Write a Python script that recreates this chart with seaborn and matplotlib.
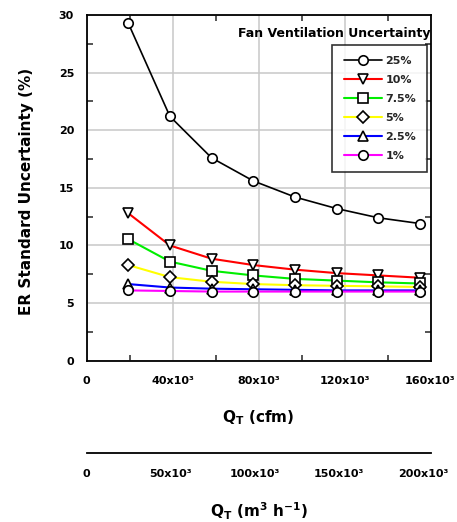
import numpy as np
import pandas as pd
import matplotlib
matplotlib.use("Agg")
import matplotlib.pyplot as plt
import seaborn as sns
from matplotlib.ticker import MultipleLocator, FixedLocator, FixedFormatter

# ---------------- data ----------------
qt_cfm = [19400, 38800, 58200, 77600, 97000, 116400, 135800, 155200]
u_25 = [29.3, 21.2, 17.6, 15.6, 14.2, 13.2, 12.4, 11.9]
u_10 = [12.8, 10.0, 8.85, 8.3, 7.9, 7.6, 7.4, 7.2]
u_7_5 = [10.55, 8.6, 7.8, 7.4, 7.1, 6.95, 6.8, 6.7]
u_5 = [8.3, 7.25, 6.85, 6.65, 6.55, 6.5, 6.45, 6.4]
u_2_5 = [6.65, 6.35, 6.25, 6.2, 6.15, 6.1, 6.1, 6.1]
u_1 = [6.1, 6.05, 6.0, 6.0, 6.0, 6.0, 6.0, 6.0]

series_labels = ["25%", "10%", "7.5%", "5%", "2.5%", "1%"]
series_values = [u_25, u_10, u_7_5, u_5, u_2_5, u_1]

x_ticks_cfm = [0, 40000, 80000, 120000, 160000]
x_ticklabels_cfm = ["0", "40x10³", "80x10³", "120x10³", "160x10³"]
x_ticks_m3h = [0, 50000, 100000, 150000, 200000]
x_ticklabels_m3h = ["0", "50x10³", "100x10³", "150x10³", "200x10³"]
y_ticks = [0, 5, 10, 15, 20, 25, 30]

# ---------------- style ----------------
sns.set_theme(style="white")
plt.rcParams["font.family"] = ["DejaVu Sans"]
plt.rcParams["font.weight"] = "bold"
plt.rcParams["mathtext.default"] = "bf"

line_colors = ["black", "#ff0000", "#00ee00", "#ffff00", "#0000ff", "#ff00ff"]
markers = ["o", "v", "s", "D", "^", "o"]
msizes = [6.8, 7.4, 6.8, 5.8, 6.6, 6.8]
lwidths = [1.2, 1.5, 1.5, 1.5, 1.5, 1.5]

fig = plt.figure(figsize=(4.57, 5.22), dpi=100)
ax = fig.add_axes([86.5 / 457, (522 - 360.7) / 522, 344 / 457, 345.7 / 522])

rows = []
for lab, vals in zip(series_labels, series_values):
    for xv, yv in zip(qt_cfm, vals):
        rows.append({"Q": xv, "U": yv, "series": lab})
df = pd.DataFrame(rows)

for i, lab in enumerate(series_labels):
    sub = df[df["series"] == lab]
    sns.lineplot(data=sub, x="Q", y="U", ax=ax, color=line_colors[i], lw=lwidths[i],
                 marker=markers[i], markersize=msizes[i], markerfacecolor="white",
                 markeredgecolor="black", markeredgewidth=1.2, label=lab,
                 sort=False, estimator=None, zorder=3 + i)

ax.set_xlim(0, 160000)
ax.set_ylim(0, 30)
ax.xaxis.set_major_locator(FixedLocator(x_ticks_cfm))
ax.xaxis.set_major_formatter(FixedFormatter(x_ticklabels_cfm))
ax.xaxis.set_minor_locator(MultipleLocator(20000))
ax.yaxis.set_major_locator(FixedLocator(y_ticks))
ax.yaxis.set_minor_locator(MultipleLocator(2.5))

ax.grid(True, which="major", color="#c8c8c8", lw=1.1)
ax.set_axisbelow(True)
for s in ax.spines.values():
    s.set_visible(True)
    s.set_color("black")
    s.set_linewidth(1.3)

ax.tick_params(axis="both", which="major", direction="out", length=5, width=1.1,
               labelsize=8, colors="black", pad=4)
ax.tick_params(axis="x", which="major", length=3, pad=8)
ax.tick_params(axis="both", which="minor", direction="in", length=4, width=1.1,
               top=True, right=True, bottom=True, left=True)
for t in ax.get_xticklabels() + ax.get_yticklabels():
    t.set_fontweight("bold")

ax.set_xlabel(r"Q$_\mathbf{T}$ (cfm)", fontsize=11, fontweight="bold", color="black")
ax.xaxis.set_label_coords(0.5 * (86.5 + 430.5) / 457, 1 - 408 / 522, transform=fig.transFigure)
ax.xaxis.label.set_va("top")
ax.set_ylabel("ER Standard Uncertainty (%)", fontsize=11, fontweight="bold", color="black")
ax.yaxis.set_label_coords(34 / 457, 1 - 191 / 522, transform=fig.transFigure)

leg = ax.legend(loc="upper right", bbox_to_anchor=(0.99, 0.913), borderaxespad=0,
                frameon=True, fontsize=8, handlelength=3.5, handletextpad=0.25,
                labelspacing=0.8, borderpad=1.0, fancybox=False, edgecolor="black")
leg.get_frame().set_linewidth(1.2)
for t in leg.get_texts():
    t.set_fontweight("bold")

ax.text(431 / 457, 1 - 33 / 522, "Fan Ventilation Uncertainty", transform=fig.transFigure,
        ha="right", va="center", fontsize=9, fontweight="bold", color="black")

# ---------------- secondary axis (m3/h) ----------------
ax2 = fig.add_axes([86.5 / 457, (522 - 453.3) / 522, 344 / 457, 0.0001])
ax2.set_facecolor("none")
for k in ["top", "left", "right"]:
    ax2.spines[k].set_visible(False)
ax2.spines["bottom"].set_color("black")
ax2.spines["bottom"].set_linewidth(1.3)
ax2.set_xlim(0, 200000 * 344 / 336.5)
ax2.xaxis.set_major_locator(FixedLocator(x_ticks_m3h))
ax2.xaxis.set_major_formatter(FixedFormatter(x_ticklabels_m3h))
ax2.set_yticks([])
ax2.tick_params(axis="x", which="major", direction="out", length=4, width=1.1,
                labelsize=8, colors="black", pad=7)
for t in ax2.get_xticklabels():
    t.set_fontweight("bold")
ax2.set_xlabel(r"Q$_\mathbf{T}$ (m$^\mathbf{3}$ h$^\mathbf{-1}$)", fontsize=11,
               fontweight="bold", color="black")
ax2.xaxis.set_label_coords(0.5 * (86.5 + 430.5) / 457, 1 - 501 / 522, transform=fig.transFigure)
ax2.xaxis.label.set_va("top")

fig.savefig("out.png", dpi=100)
